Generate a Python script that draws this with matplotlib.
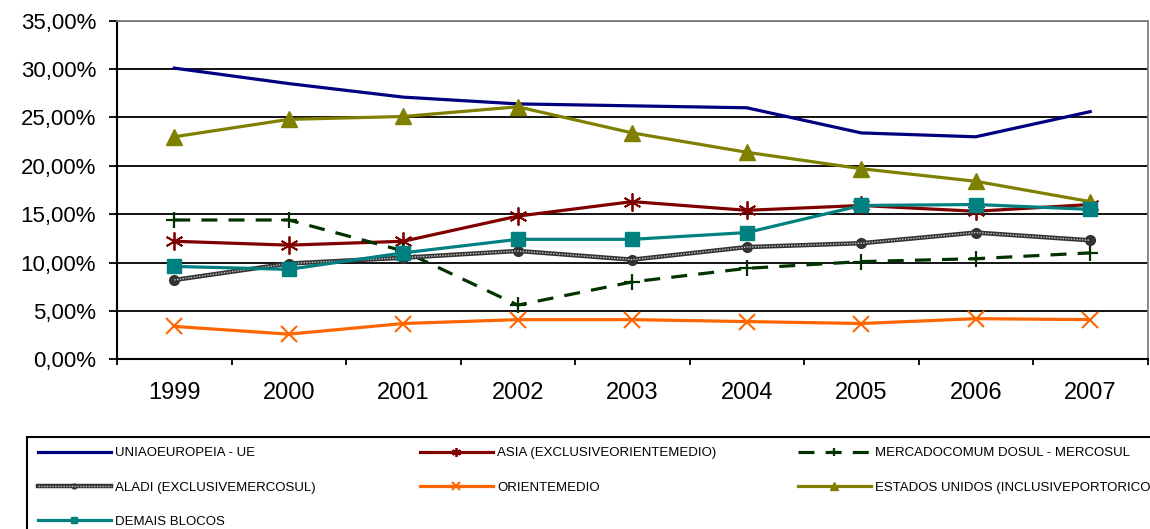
import matplotlib
matplotlib.use("Agg")
import matplotlib.pyplot as plt
import numpy as np
from matplotlib.patches import Rectangle

plt.rcParams['font.family'] = ['Liberation Sans', 'DejaVu Sans']

# data (shares, %)
years = ['1999', '2000', '2001', '2002', '2003', '2004', '2005', '2006', '2007']
ue       = [30.1, 28.5, 27.1, 26.4, 26.2, 26.0, 23.4, 23.0, 25.6]
asia     = [12.2, 11.8, 12.2, 14.8, 16.3, 15.4, 15.9, 15.3, 16.0]
mercosul = [14.4, 14.4, 11.2, 5.6, 8.0, 9.4, 10.1, 10.4, 11.0]
aladi    = [8.2, 9.9, 10.5, 11.2, 10.3, 11.6, 12.0, 13.1, 12.3]
oriente  = [3.4, 2.6, 3.7, 4.1, 4.1, 3.9, 3.7, 4.2, 4.1]
eua      = [23.0, 24.8, 25.1, 26.1, 23.4, 21.4, 19.7, 18.4, 16.3]
demais   = [9.6, 9.3, 11.0, 12.4, 12.4, 13.1, 15.9, 16.0, 15.5]

labels = {
    'ue': 'UNIAOEUROPEIA - UE',
    'asia': 'ASIA (EXCLUSIVEORIENTEMEDIO)',
    'mercosul': 'MERCADOCOMUM DOSUL - MERCOSUL',
    'aladi': 'ALADI (EXCLUSIVEMERCOSUL)',
    'oriente': 'ORIENTEMEDIO',
    'eua': 'ESTADOS UNIDOS (INCLUSIVEPORTORICO)',
    'demais': 'DEMAIS BLOCOS',
}

x = np.arange(len(years))
W, H = 1150, 529

fig = plt.figure(figsize=(W / 100, H / 100), dpi=100)
ax = fig.add_axes([117/W, 1 - 359.3/H, (1147.5 - 117)/W, (359.3 - 20.7)/H])

lw = 2.3
h_ue, = ax.plot(x, ue, color='#000080', lw=lw)
h_asia, = ax.plot(x, asia, color='#800000', lw=lw, marker=(6, 2, 0), ms=13, mew=1.3)
h_merc, = ax.plot(x, mercosul, color='#003300', lw=lw, ls=(0, (5, 3.5)), marker='+', ms=11, mew=1.6)
h_aladi, = ax.plot(x, aladi, color='#333333', lw=3.2, marker='o', ms=7)
h_aladi2, = ax.plot(x, aladi, color='#c8c8c8', lw=1.0, ls=(0, (1, 1)))
h_or, = ax.plot(x, oriente, color='#FF6600', lw=lw, marker='x', ms=11, mew=1.5)
h_eua, = ax.plot(x, eua, color='#808000', lw=lw, marker='^', ms=12)
h_dem, = ax.plot(x, demais, color='#008080', lw=lw, marker='s', ms=10)

ax.set_xlim(-0.5, len(years) - 0.5)
ax.set_ylim(0, 35)
ax.set_yticks(np.arange(0, 36, 5))
ax.set_yticklabels([f'{v:.2f}%'.replace('.', ',') for v in np.arange(0, 36, 5)], fontsize=16)
ax.set_xticks(x)
ax.set_xticklabels(years, fontsize=17)
ax.set_xticks(np.arange(-0.5, len(years)), minor=True)
ax.tick_params(axis='x', which='major', length=0, pad=16)
ax.tick_params(axis='x', which='minor', length=4.5, width=1.3, direction='out')
ax.tick_params(axis='y', length=6, width=1.3, pad=9)

ax.grid(axis='y', color='black', lw=1.3)
ax.set_axisbelow(True)
for s in ['top', 'right']:
    ax.spines[s].set_color('#808080')
    ax.spines[s].set_linewidth(1.3)
for s in ['left', 'bottom']:
    ax.spines[s].set_color('black')
    ax.spines[s].set_linewidth(1.5)

# legend box (runs off the right and bottom edge like the original)
fig.patches.append(Rectangle((26.7/W, -0.05), 1.2, 1 - 436.7/H + 0.05,
                             transform=fig.transFigure, fill=False,
                             edgecolor='black', lw=1.5))

columns = [
    (38, [h_ue, (h_aladi, h_aladi2), h_dem], [labels['ue'], labels['aladi'], labels['demais']]),
    (420, [h_asia, h_or], [labels['asia'], labels['oriente']]),
    (798, [h_merc, h_eua], [labels['mercosul'], labels['eua']]),
]
for xpx, hs, ns in columns:
    leg = fig.legend(hs, ns, fontsize=9.5, loc='upper left',
                     bbox_to_anchor=(xpx/W, 1 - 447/H), borderaxespad=0,
                     borderpad=0, handlelength=5.5, handletextpad=0.35,
                     labelspacing=1.68, frameon=False, markerscale=0.5)

fig.savefig('out.png', dpi=100)
